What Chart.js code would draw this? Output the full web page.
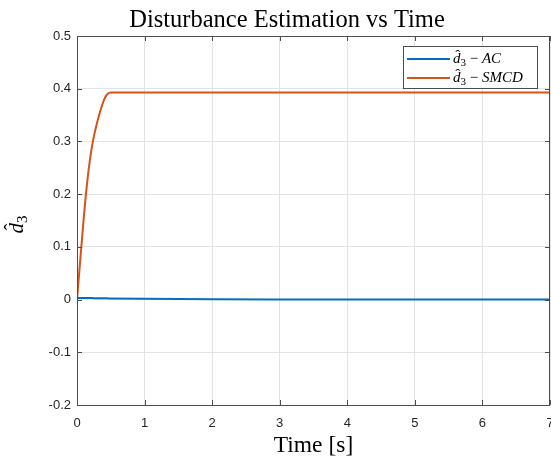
<!DOCTYPE html>
<html>
<head>
<meta charset="utf-8">
<script src="https://cdn.jsdelivr.net/npm/chart.js"></script>
<style>
  html, body { margin: 0; padding: 0; background: #fff; }
  #wrap { width: 551px; height: 458px; }
</style>
</head>
<body>
<div id="wrap"><canvas id="myChart" width="551" height="458"></canvas></div>
<script>
// data
const timeVals = [0, 0.05, 0.1, 0.15, 0.2, 0.25, 0.3, 0.35, 0.4, 0.45, 0.5, 1, 2, 3, 4, 5, 6, 7];
const acVals = [0.003, 0.003, 0.003, 0.0029, 0.0028, 0.0027, 0.0026, 0.0025, 0.0024, 0.0023, 0.0022, 0.0015, 0.0006, 0.0002, 0, 0, 0, 0];
const smcdVals = [0, 0.078, 0.155, 0.222, 0.273, 0.31, 0.337, 0.36, 0.379, 0.39, 0.393, 0.393, 0.393, 0.393, 0.393, 0.393, 0.393, 0.393];
const seriesNames = ['AC', 'SMCD'];
const seriesColors = ['#0072BD', '#D95319'];
const xTicks = [0, 1, 2, 3, 4, 5, 6, 7];
const yTicks = [-0.2, -0.1, 0, 0.1, 0.2, 0.3, 0.4, 0.5];
const titleText = 'Disturbance Estimation vs Time';
const xTitle = 'Time [s]';

const SERIF = '"Liberation Serif", "DejaVu Serif", serif';
const SANS = '"Liberation Sans", Arial, sans-serif';
const AXIS_COLOR = '#4d4d4d';

function toPoints(vals) {
  return timeVals.map((t, i) => ({ x: t, y: vals[i] }));
}

// draws d-hat with subscript 3, returns width
function drawDHat(ctx, x, y, size, hatLift) {
  ctx.font = 'italic ' + size + 'px ' + SERIF;
  ctx.fillText('d', x, y);
  const w = ctx.measureText('d').width;
  ctx.font = size + 'px ' + SERIF;
  const hw = ctx.measureText('\u02C6').width;
  ctx.fillText('\u02C6', x + w * 0.62 - hw / 2, y - size * hatLift);
  ctx.font = Math.round(size * 0.7) + 'px ' + SERIF;
  ctx.fillText('3', x + w, y + size * 0.2);
  return w + ctx.measureText('3').width;
}

const decorPlugin = {
  id: 'decor',
  afterDraw(chart) {
    const ctx = chart.ctx;
    const a = chart.chartArea;
    const xs = chart.scales.x;
    const ys = chart.scales.y;
    ctx.save();
    // box + inward ticks
    ctx.strokeStyle = AXIS_COLOR;
    ctx.lineWidth = 1;
    ctx.beginPath();
    ctx.rect(Math.round(a.left) + 0.5, Math.round(a.top) + 0.5, Math.round(a.right - a.left) - 1, Math.round(a.bottom - a.top));
    xTicks.forEach(t => {
      const px = Math.round(xs.getPixelForValue(t)) + 0.5;
      ctx.moveTo(px, a.bottom); ctx.lineTo(px, a.bottom - 5);
      ctx.moveTo(px, a.top); ctx.lineTo(px, a.top + 5);
    });
    yTicks.forEach(v => {
      const py = Math.round(ys.getPixelForValue(v)) + 0.5;
      ctx.moveTo(a.left, py); ctx.lineTo(a.left + 5, py);
      ctx.moveTo(a.right, py); ctx.lineTo(a.right - 5, py);
    });
    ctx.stroke();

    // title
    ctx.fillStyle = '#000';
    ctx.textAlign = 'center';
    ctx.textBaseline = 'alphabetic';
    ctx.font = '24.5px ' + SERIF;
    ctx.fillText(titleText, 287, 27);
    // x label
    ctx.font = '23.5px ' + SERIF;
    ctx.fillText(xTitle, (a.left + a.right) / 2, 452);

    // y label, rotated
    ctx.save();
    ctx.translate(23, (a.top + a.bottom) / 2 + 3);
    ctx.rotate(-Math.PI / 2);
    ctx.textAlign = 'left';
    drawDHat(ctx, -10, 0, 21, 0.18);
    ctx.restore();

    // legend box
    const lx = 403, ly = 46, lw = 134, lh = 42;
    ctx.fillStyle = '#fff';
    ctx.fillRect(lx, ly, lw, lh);
    ctx.strokeStyle = AXIS_COLOR;
    ctx.lineWidth = 1;
    ctx.strokeRect(lx + 0.5, ly + 0.5, lw, lh);
    ctx.textAlign = 'left';
    chart.data.datasets.forEach((ds, i) => {
      const rowY = i === 0 ? 59 : 78;
      ctx.strokeStyle = ds.borderColor;
      ctx.lineWidth = 2;
      ctx.beginPath();
      ctx.moveTo(407, rowY); ctx.lineTo(450, rowY);
      ctx.stroke();
      ctx.fillStyle = '#000';
      let tx = 453;
      tx += drawDHat(ctx, tx, rowY + 4, 15, 0.22);
      ctx.font = '15px ' + SERIF;
      ctx.fillText(' \u2212 ', tx, rowY + 4);
      tx += ctx.measureText(' \u2212 ').width;
      ctx.font = 'italic 15px ' + SERIF;
      ctx.fillText(seriesNames[i], tx, rowY + 4);
    });
    ctx.restore();
  }
};

const config = {
  type: 'line',
  data: {
    datasets: seriesNames.map((name, i) => ({
      label: 'd\u0302\u2083 \u2212 ' + name,
      data: toPoints(i === 0 ? acVals : smcdVals),
      borderColor: seriesColors[i],
      backgroundColor: seriesColors[i],
      borderWidth: 2,
      pointRadius: 0,
      cubicInterpolationMode: 'monotone',
      fill: false,
    })),
  },
  options: {
    responsive: false,
    animation: false,
    layout: { padding: { top: 36, right: 1, left: 0, bottom: 0 } },
    plugins: {
      legend: { display: false },
      title: { display: false },
      tooltip: { enabled: false },
    },
    scales: {
      x: {
        type: 'linear',
        min: 0,
        max: 7,
        afterBuildTicks: s => { s.ticks = xTicks.map(v => ({ value: v })); },
        afterFit: s => { s.height = 53; s.paddingLeft = 0; s.paddingRight = 0; },
        grid: { color: '#e3e3e3', drawTicks: false },
        border: { display: false },
        ticks: {
          padding: 11,
          color: '#262626',
          font: { family: SANS, size: 13 },
          maxRotation: 0,
          callback: v => String(v),
        },
      },
      y: {
        min: -0.2,
        max: 0.5,
        afterBuildTicks: s => { s.ticks = yTicks.map(v => ({ value: v })); },
        afterFit: s => { s.width = 77; s.paddingTop = 0; s.paddingBottom = 0; },
        grid: { color: '#e3e3e3', drawTicks: false },
        border: { display: false },
        ticks: {
          padding: 6,
          color: '#262626',
          font: { family: SANS, size: 13 },
          callback: v => String(Number(v.toFixed(1))),
        },
      },
    },
  },
  plugins: [decorPlugin],
};

const myChart = new Chart(document.getElementById('myChart'), config);
</script>
</body>
</html>
